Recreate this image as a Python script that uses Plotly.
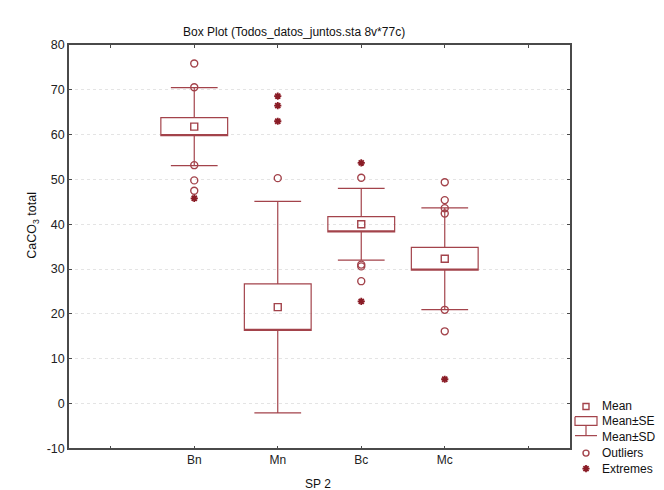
import plotly.graph_objects as go

# ---------------- data ----------------
categories = ["Bn", "Mn", "Bc", "Mc"]
means = [61.8, 21.5, 40.0, 32.3]
se = [2.0, 5.2, 1.7, 2.55]
sd = [8.7, 23.6, 8.0, 11.35]

outlier_cat = ["Bn", "Bn", "Bn", "Bn", "Bn",
               "Mn",
               "Bc", "Bc", "Bc", "Bc",
               "Mc", "Mc", "Mc", "Mc", "Mc", "Mc"]
outlier_val = [75.9, 70.6, 53.2, 49.8, 47.5,
               50.3,
               50.4, 31.0, 30.6, 27.3,
               49.4, 45.4, 43.6, 42.4, 20.9, 16.1]

extreme_cat = ["Bn", "Mn", "Mn", "Mn", "Bc", "Bc", "Mc"]
extreme_val = [45.8, 68.6, 66.5, 63.0, 53.7, 22.8, 5.4]

y_ticks = [-10, 0, 10, 20, 30, 40, 50, 60, 70, 80]
y_tick_labels = ["-10", "0", "10", "20", "30", "40", "50", "60", "70", "80"]
legend_labels = ["Mean", "Mean±SE", "Mean±SD", "Outliers", "Extremes"]

# ---------------- style ----------------
W, H = 664, 490
FONT = "Liberation Sans, Arial, sans-serif"
RED = "#A3434B"
DARK = "#8A1C26"
AXC = "#4a4a4a"

pos = {c: i + 1 for i, c in enumerate(categories)}
xs = [pos[c] for c in categories]

fig = go.Figure()

lo_se = [m - s for m, s in zip(means, se)]
hi_se = [m + s for m, s in zip(means, se)]
lo_sd = [m - d for m, d in zip(means, sd)]
hi_sd = [m + d for m, d in zip(means, sd)]

fig.add_trace(go.Box(
    x=xs, q1=lo_se, median=lo_se, q3=hi_se,
    lowerfence=lo_sd, upperfence=hi_sd,
    boxpoints=False, width=0.8, whiskerwidth=0.7,
    fillcolor="rgba(0,0,0,0)", line=dict(color=RED, width=1.2),
    showlegend=False, hoverinfo="skip",
))

fig.add_trace(go.Scatter(
    x=xs, y=means, mode="markers",
    marker=dict(symbol="square-open", size=7, color=RED, line=dict(color=RED, width=1.4)),
    showlegend=False, hoverinfo="skip",
))

fig.add_trace(go.Scatter(
    x=[pos[c] for c in outlier_cat], y=outlier_val, mode="markers",
    marker=dict(symbol="circle-open", size=7, color=RED, line=dict(color=RED, width=1.4)),
    showlegend=False, hoverinfo="skip",
))

fig.add_trace(go.Scatter(
    x=[pos[c] for c in extreme_cat], y=extreme_val, mode="markers",
    marker=dict(symbol="asterisk-open", size=6, color=DARK, line=dict(color=DARK, width=1.8)),
    showlegend=False, hoverinfo="skip",
))

# ---------------- custom legend (pixel-coordinate helper axes) ----------------
LX = 578          # symbol centre (px)
TX = 592          # text left (px)
rows = [403, 418, 434, 451, 467]
half = 11

fig.add_trace(go.Scatter(
    x=[LX], y=[rows[0]], mode="markers", xaxis="x2", yaxis="y2",
    marker=dict(symbol="square-open", size=6, color=RED, line=dict(color=RED, width=1.4)),
    showlegend=False, hoverinfo="skip", cliponaxis=False,
))
fig.add_trace(go.Scatter(
    x=[LX - half, LX + half, LX + half, LX - half, LX - half],
    y=[rows[1] - 4.5, rows[1] - 4.5, rows[1] + 4.5, rows[1] + 4.5, rows[1] - 4.5],
    mode="lines", xaxis="x2", yaxis="y2",
    line=dict(color=RED, width=1.2), showlegend=False, hoverinfo="skip", cliponaxis=False,
))
fig.add_trace(go.Scatter(
    x=[LX, LX, None, LX - half, LX + half],
    y=[rows[1] + 4.5, rows[2] - 1, None, rows[2] - 1, rows[2] - 1],
    mode="lines", xaxis="x2", yaxis="y2",
    line=dict(color=RED, width=1.2), showlegend=False, hoverinfo="skip", cliponaxis=False,
))
fig.add_trace(go.Scatter(
    x=[LX], y=[rows[3]], mode="markers", xaxis="x2", yaxis="y2",
    marker=dict(symbol="circle-open", size=6, color=RED, line=dict(color=RED, width=1.4)),
    showlegend=False, hoverinfo="skip", cliponaxis=False,
))
fig.add_trace(go.Scatter(
    x=[LX], y=[rows[4]], mode="markers", xaxis="x2", yaxis="y2",
    marker=dict(symbol="asterisk-open", size=6, color=DARK, line=dict(color=DARK, width=1.8)),
    showlegend=False, hoverinfo="skip", cliponaxis=False,
))

annotations = []
for lab, ry in zip(legend_labels, rows):
    annotations.append(dict(
        x=TX, y=ry, xref="x2", yref="y2", text=lab, showarrow=False,
        xanchor="left", yanchor="middle", font=dict(family=FONT, size=12, color="#111"),
    ))

# title & axis titles
annotations.append(dict(
    x=286 / W, y=1 - 18 / H, xref="paper", yref="paper",
    text="Box Plot (Todos_datos_juntos.sta 8v*77c)", showarrow=False,
    xanchor="center", yanchor="middle", font=dict(family=FONT, size=12, color="#111"),
))
annotations.append(dict(
    x=25 / W, y=1 - 217 / H, xref="paper", yref="paper",
    text="CaCO<sub>3</sub> total", textangle=-90, showarrow=False,
    xanchor="center", yanchor="middle", font=dict(family=FONT, size=12.5, color="#111"),
))
annotations.append(dict(
    x=310 / W, y=1 - 483 / H, xref="paper", yref="paper",
    text="SP 2", showarrow=False,
    xanchor="center", yanchor="middle", font=dict(family=FONT, size=12, color="#111"),
))

PL, PR, PT, PB = 61, 562, 31, 446

fig.update_layout(
    width=W, height=H,
    margin=dict(l=0, r=0, t=0, b=0),
    paper_bgcolor="white", plot_bgcolor="rgba(0,0,0,0)",
    showlegend=False,
    annotations=annotations,
    xaxis=dict(
        domain=[PL / W, PR / W], range=[-0.5, 5.5],
        tickvals=xs, ticktext=categories,
        showgrid=False, zeroline=False,
        showline=True, mirror="ticks", linecolor=AXC, linewidth=1.5,
        ticks="inside", ticklen=3, tickcolor=AXC, tickwidth=1,
        minor=dict(tick0=0, dtick=1, ticks="inside", ticklen=3, tickcolor=AXC, tickwidth=1, showgrid=False),
        tickfont=dict(family=FONT, size=12, color="#222"),
        anchor="y",
    ),
    yaxis=dict(
        domain=[1 - PB / H, 1 - PT / H], range=[-10, 80],
        tickvals=y_ticks, ticktext=y_tick_labels,
        showgrid=True, gridcolor="#e4e4e4", griddash="dot", gridwidth=1,
        zeroline=False,
        showline=True, mirror="ticks", linecolor=AXC, linewidth=1.5,
        ticks="inside", ticklen=3, tickcolor=AXC, tickwidth=1,
        tickfont=dict(family=FONT, size=12.5, color="#222"),
        anchor="x",
    ),
    xaxis2=dict(domain=[565 / W, 1], range=[565, W], visible=False, anchor="y2", fixedrange=True),
    yaxis2=dict(domain=[0, 1], range=[H, 0], visible=False, anchor="x2", fixedrange=True),
)

fig.write_html("out.html")
